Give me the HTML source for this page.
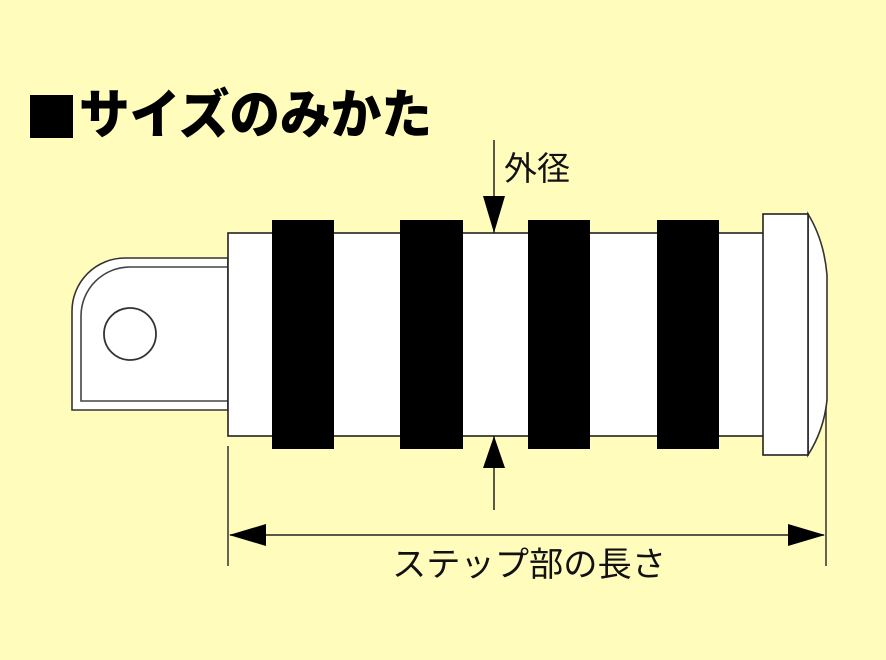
<!DOCTYPE html>
<html><head><meta charset="utf-8"><style>
html,body{margin:0;padding:0;background:#FFFCBC;}
svg{display:block;}
text{font-family:"Liberation Sans","Noto Sans CJK JP",sans-serif;}
</style></head><body>
<svg width="886" height="660" viewBox="0 0 886 660" xmlns="http://www.w3.org/2000/svg">
<rect width="886" height="660" fill="#FFFCBC"/>
<rect x="30" y="95" width="43" height="43" fill="#000"/>
<text x="79" y="133" font-size="53" font-weight="900" fill="#000" textLength="353" lengthAdjust="spacingAndGlyphs">サイズのみかた</text>
<!-- bracket -->
<path d="M228 258 H125 A53 53 0 0 0 72 311 V410 H228 Z" fill="#fff" stroke="#333" stroke-width="1.6"/>
<path d="M228 267 H130 A49 49 0 0 0 81 316 V401 H228" fill="none" stroke="#444" stroke-width="1.6"/>
<circle cx="130" cy="334" r="26" fill="#fff" stroke="#333" stroke-width="1.8"/>
<!-- tube -->
<rect x="228" y="233" width="536" height="203" fill="#fff" stroke="#222" stroke-width="1.6"/>
<rect x="272" y="220" width="62" height="229" fill="#000"/>
<rect x="400" y="220" width="63" height="229" fill="#000"/>
<rect x="528" y="220" width="62" height="229" fill="#000"/>
<rect x="657" y="220" width="62" height="229" fill="#000"/>
<!-- cap -->
<path d="M808 214 Q824 240 827 275 V400 Q824 430 808 455 Z" fill="#fff" stroke="#333" stroke-width="1.6"/>
<rect x="763" y="214" width="45" height="241" fill="#fff" stroke="#222" stroke-width="1.6"/>
<!-- diameter dim -->
<line x1="494" y1="140" x2="494" y2="233" stroke="#222" stroke-width="1.5"/>
<polygon points="483,196 505,196 494,233" fill="#000"/>
<line x1="494" y1="436" x2="494" y2="510" stroke="#222" stroke-width="1.5"/>
<polygon points="483,468 505,468 494,436" fill="#000"/>
<text x="504" y="180" font-size="33" fill="#111">外径</text>
<!-- length dim -->
<line x1="228" y1="446" x2="228" y2="566" stroke="#333" stroke-width="1.5"/>
<line x1="826" y1="407" x2="826" y2="566" stroke="#333" stroke-width="1.5"/>
<line x1="230" y1="535" x2="824" y2="535" stroke="#222" stroke-width="1.5"/>
<polygon points="229,535 266,524 266,546" fill="#000"/>
<polygon points="825,535 788,524 788,546" fill="#000"/>
<text x="392" y="576" font-size="34" fill="#111" textLength="274" lengthAdjust="spacingAndGlyphs">ステップ部の長さ</text>
</svg>
</body></html>
